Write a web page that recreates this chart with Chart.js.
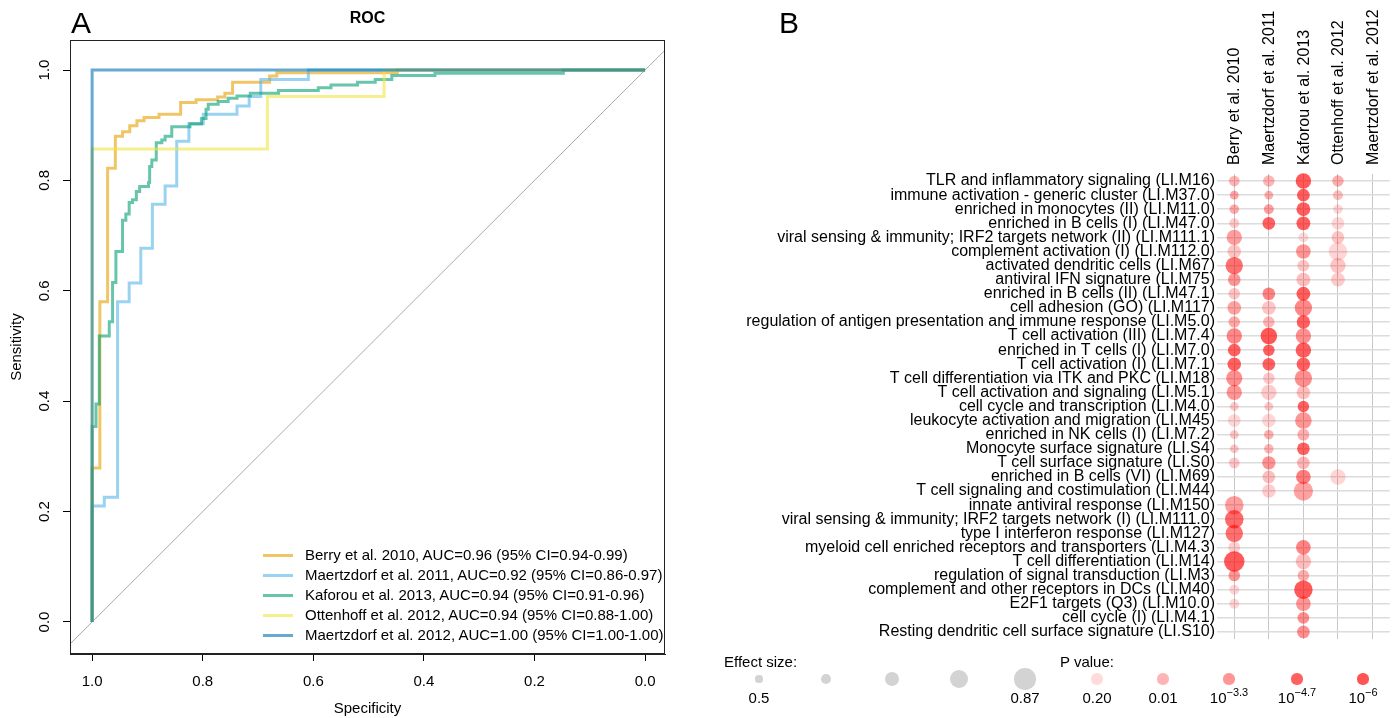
<!DOCTYPE html>
<html><head><meta charset="utf-8">
<script src="https://cdn.jsdelivr.net/npm/chart.js@4.4.1/dist/chart.umd.min.js"></script>
<style>
html,body{margin:0;padding:0;background:#fff;}
body{width:1400px;height:718px;position:relative;overflow:hidden;font-family:"Liberation Sans",Arial,Helvetica,sans-serif;color:#000;}
#ca{position:absolute;left:0;top:0;}
#cb{position:absolute;left:740px;top:0;}
.abs{position:absolute;white-space:nowrap;}
.letter{font-size:30px;line-height:30px;}
.t15{font-size:15px;line-height:18px;}
.dot{position:absolute;border-radius:50%;}
sup{font-size:11px;vertical-align:0;position:relative;top:-7px;}
</style></head>
<body>
<canvas id="ca" width="735" height="718"></canvas>
<canvas id="cb" width="660" height="718"></canvas>
<div id="overlay"></div>
<script>
// ---------------- Panel A: ROC data (specificity, sensitivity vertices) ----------------
const rocTicks = [0, 0.2, 0.4, 0.6, 0.8, 1.0];
const rocLegend = [
  'Berry et al. 2010, AUC=0.96 (95% CI=0.94-0.99)',
  'Maertzdorf et al. 2011, AUC=0.92 (95% CI=0.86-0.97)',
  'Kaforou et al. 2013, AUC=0.94 (95% CI=0.91-0.96)',
  'Ottenhoff et al. 2012, AUC=0.94 (95% CI=0.88-1.00)',
  'Maertzdorf et al. 2012, AUC=1.00 (95% CI=1.00-1.00)'
];
const berrySpec = [1,1,0.986,0.986,0.972,0.972,0.958,0.958,0.945,0.945,0.932,0.932,0.919,0.919,0.906,0.906,0.879,0.879,0.840,0.840,0.812,0.812,0.773,0.773,0.760,0.760,0.746,0.746,0.679,0.679,0.666,0.666,0.448,0.448,0];
const berrySens = [0,0.279,0.279,0.580,0.580,0.822,0.822,0.880,0.880,0.888,0.888,0.899,0.899,0.908,0.908,0.914,0.914,0.920,0.920,0.941,0.941,0.946,0.946,0.951,0.951,0.958,0.958,0.978,0.978,0.989,0.989,0.995,0.995,1,1];
const maert11Spec = [1,1,0.978,0.978,0.954,0.954,0.933,0.933,0.912,0.912,0.891,0.891,0.868,0.868,0.847,0.847,0.825,0.825,0.799,0.799,0.738,0.738,0.716,0.716,0.695,0.695,0.609,0.609,0];
const maert11Sens = [0,0.210,0.210,0.226,0.226,0.580,0.580,0.614,0.614,0.677,0.677,0.757,0.757,0.790,0.790,0.871,0.871,0.903,0.903,0.920,0.920,0.935,0.935,0.952,0.952,0.983,0.983,1,1];
const kaforouSpec = [1,1,0.993,0.993,0.987,0.987,0.969,0.969,0.963,0.963,0.957,0.957,0.945,0.945,0.939,0.939,0.933,0.933,0.927,0.927,0.920,0.920,0.914,0.914,0.898,0.898,0.896,0.896,0.892,0.892,0.884,0.884,0.874,0.874,0.868,0.868,0.856,0.856,0.823,0.823,0.802,0.802,0.794,0.794,0.790,0.790,0.772,0.772,0.754,0.754,0.738,0.738,0.714,0.714,0.663,0.663,0.591,0.591,0.568,0.568,0.520,0.520,0.488,0.488,0.458,0.458,0.380,0.380,0.148,0.148,0];
const kaforouSens = [0,0.354,0.354,0.395,0.395,0.518,0.518,0.544,0.544,0.615,0.615,0.671,0.671,0.728,0.728,0.739,0.739,0.760,0.760,0.765,0.765,0.780,0.780,0.789,0.789,0.796,0.796,0.825,0.825,0.837,0.837,0.868,0.868,0.873,0.873,0.880,0.880,0.897,0.897,0.902,0.902,0.912,0.912,0.929,0.929,0.938,0.938,0.943,0.943,0.949,0.949,0.953,0.953,0.958,0.958,0.963,0.963,0.968,0.968,0.973,0.973,0.978,0.978,0.983,0.983,0.990,0.990,0.994,0.994,1,1];
const ottenSpec = [1,1,0.683,0.683,0.472,0.472,0];
const ottenSens = [0,0.857,0.857,0.952,0.952,1,1];
const maert12Spec = [1,1,0];
const maert12Sens = [0,1,1];

// ---------------- Panel B: module enrichment data ----------------
const studies = ['Berry et al. 2010','Maertzdorf et al. 2011','Kaforou et al. 2013','Ottenhoff et al. 2012','Maertzdorf et al. 2012'];
const modules = [
  'TLR and inflammatory signaling (LI.M16)',
  'immune activation - generic cluster (LI.M37.0)',
  'enriched in monocytes (II) (LI.M11.0)',
  'enriched in B cells (I) (LI.M47.0)',
  'viral sensing & immunity; IRF2 targets network (II) (LI.M111.1)',
  'complement activation (I) (LI.M112.0)',
  'activated dendritic cells (LI.M67)',
  'antiviral IFN signature (LI.M75)',
  'enriched in B cells (II) (LI.M47.1)',
  'cell adhesion (GO) (LI.M117)',
  'regulation of antigen presentation and immune response (LI.M5.0)',
  'T cell activation (III) (LI.M7.4)',
  'enriched in T cells (I) (LI.M7.0)',
  'T cell activation (I) (LI.M7.1)',
  'T cell differentiation via ITK and PKC (LI.M18)',
  'T cell activation and signaling (LI.M5.1)',
  'cell cycle and transcription (LI.M4.0)',
  'leukocyte activation and migration (LI.M45)',
  'enriched in NK cells (I) (LI.M7.2)',
  'Monocyte surface signature (LI.S4)',
  'T cell surface signature (LI.S0)',
  'enriched in B cells (VI) (LI.M69)',
  'T cell signaling and costimulation (LI.M44)',
  'innate antiviral response (LI.M150)',
  'viral sensing & immunity; IRF2 targets network (I) (LI.M111.0)',
  'type I interferon response (LI.M127)',
  'myeloid cell enriched receptors and transporters (LI.M4.3)',
  'T cell differentiation (LI.M14)',
  'regulation of signal transduction (LI.M3)',
  'complement and other receptors in DCs (LI.M40)',
  'E2F1 targets (Q3) (LI.M10.0)',
  'cell cycle (I) (LI.M4.1)',
  'Resting dendritic cell surface signature (LI.S10)'
];
// effect sizes (null = not shown)
const berryES   = [0.59,0.54,0.56,0.57,0.71,0.66,0.76,0.64,0.61,0.67,0.61,0.71,0.64,0.66,0.73,0.71,0.54,0.64,0.54,0.54,0.59,null,null,0.79,0.79,0.76,0.62,0.84,0.61,0.57,0.57,null,null];
const maert11ES = [0.61,0.54,0.57,0.64,null,null,null,null,0.64,0.67,0.61,0.74,0.61,0.64,0.61,0.71,0.54,0.66,0.56,0.56,0.66,0.64,0.66,null,null,null,null,null,null,null,null,null,null];
const kaforouES = [0.71,0.64,0.67,0.67,0.57,0.69,0.62,0.67,0.67,0.76,0.66,0.71,0.71,0.66,0.76,0.66,0.61,0.74,0.62,0.64,0.64,0.69,0.81,null,null,null,0.69,0.71,0.61,0.79,0.69,0.62,0.64];
const ottenES   = [0.61,0.57,0.56,0.64,0.64,0.79,0.71,0.67,null,null,null,null,null,null,null,null,null,null,null,null,null,0.71,null,null,null,null,null,null,null,null,null,null,null];
const maert12ES = new Array(33).fill(null);
// -log10(P value)
const berryLogP   = [2.0,2.7,2.5,1.3,3.0,1.5,4.3,3.3,1.5,2.8,2.5,3.7,4.7,4.7,3.5,3.3,1.4,0.9,1.5,1.5,1.4,null,null,3.0,4.5,4.3,1.1,5.5,3.3,0.9,0.9,null,null];
const maert11LogP = [2.0,2.3,3.0,4.7,null,null,null,null,3.8,1.5,2.0,5.8,4.7,4.7,1.4,1.3,1.4,0.9,2.3,2.0,3.4,1.7,1.2,null,null,null,null,null,null,null,null,null,null];
const kaforouLogP = [5.5,5.0,5.0,5.0,0.8,3.3,1.5,1.7,5.0,3.7,4.8,3.5,5.0,4.8,3.5,1.7,4.8,3.3,2.3,4.8,2.0,4.0,2.8,null,null,null,3.8,1.7,2.3,5.5,3.3,3.5,3.5];
const ottenLogP   = [2.3,1.7,0.9,0.9,1.5,0.9,1.5,1.3,null,null,null,null,null,null,null,null,null,null,null,null,null,0.9,null,null,null,null,null,null,null,null,null,null,null];
const maert12LogP = new Array(33).fill(null);

// legend keys
const esLegendValues = [0.5, 0.5925, 0.685, 0.7775, 0.87];
const esLegendLabels = ['0.5', '', '', '', '0.87'];
const pLegendLogP = [0.7, 2, 3.3, 4.7, 6];
const pLegendLabels = ['0.20', '0.01', '10<sup>\u22123.3</sup>', '10<sup>\u22124.7</sup>', '10<sup>\u22126</sup>'];

// ---------------- style mappings ----------------
function radiusOf(es) { return 3.6 + (es - 0.5) * 19.5; }
const alphaKnots = [[0.7,0.14],[2,0.29],[3.3,0.41],[4.7,0.62],[6,0.67]];
function colorOf(lp) {
  let a;
  if (lp <= alphaKnots[0][0]) a = alphaKnots[0][1];
  else if (lp >= alphaKnots[4][0]) a = alphaKnots[4][1];
  else {
    for (let i = 0; i < 4; i++) {
      const [x0,y0] = alphaKnots[i], [x1,y1] = alphaKnots[i+1];
      if (lp >= x0 && lp <= x1) { a = y0 + (y1 - y0) * (lp - x0) / (x1 - x0); break; }
    }
  }
  return 'rgba(255,0,0,' + a.toFixed(3) + ')';
}

Chart.defaults.font.family = '"Liberation Sans", Arial, Helvetica, sans-serif';
Chart.defaults.color = '#000';

// ---------------- Panel A chart ----------------
const rocColors = ['rgba(230,159,0,0.6)','rgba(86,180,233,0.6)','rgba(0,158,115,0.6)','rgba(240,228,66,0.6)','rgba(0,114,178,0.6)'];
const rocSeries = [[berrySpec,berrySens],[maert11Spec,maert11Sens],[kaforouSpec,kaforouSens],[ottenSpec,ottenSens],[maert12Spec,maert12Sens]];
const X_MIN = -0.036, X_MAX = 1.04, Y_MIN = -0.058, Y_MAX = 1.054;
function pts(sx, sy) { return sx.map((v, i) => ({x: v, y: sy[i]})); }

const boxPlugin = {
  id: 'box',
  afterDraw(chart) {
    const a = chart.chartArea, c = chart.ctx;
    c.save(); c.strokeStyle = '#222'; c.lineWidth = 1;
    c.strokeRect(Math.round(a.left) + 0.5, Math.round(a.top) + 0.5, Math.round(a.right - a.left) - 1, Math.round(a.bottom - a.top) - 1);
    c.restore();
  }
};

new Chart(document.getElementById('ca'), {
  type: 'scatter',
  data: {
    datasets: rocSeries.map((s, i) => ({
      label: rocLegend[i], data: pts(s[0], s[1]), showLine: true, borderColor: rocColors[i],
      backgroundColor: rocColors[i], borderWidth: 3, pointRadius: 0, tension: 0, order: 5 - i
    })).concat([{
      label: 'diagonal', data: [{x: X_MAX, y: 1 - X_MAX}, {x: X_MIN, y: 1 - X_MIN}], showLine: true,
      borderColor: '#aaaaaa', borderWidth: 1, pointRadius: 0, order: 10
    }])
  },
  options: {
    responsive: false, animation: false, events: [],
    layout: {padding: {left: 0, right: 70, top: 0, bottom: 0}},
    plugins: {
      legend: {display: false}, tooltip: {enabled: false},
      title: {display: true, fullSize: false, text: 'ROC', color: '#000', font: {size: 16, weight: 'bold'}, padding: {top: 9, bottom: 12}}
    },
    scales: {
      x: {
        type: 'linear', min: X_MIN, max: X_MAX, reverse: true,
        afterBuildTicks: s => { s.ticks = rocTicks.map(v => ({value: v})); },
        ticks: {callback: v => Number(v).toFixed(1), font: {size: 15}, color: '#000', padding: 12, maxRotation: 0, autoSkip: false},
        grid: {display: true, drawOnChartArea: false, drawTicks: true, tickLength: 7, color: '#000'},
        border: {display: true, color: '#222'},
        title: {display: true, text: 'Specificity', color: '#000', font: {size: 15}, padding: 0},
        afterFit: s => { s.height = 64; }
      },
      y: {
        type: 'linear', min: Y_MIN, max: Y_MAX,
        afterBuildTicks: s => { s.ticks = rocTicks.map(v => ({value: v})); },
        ticks: {callback: v => Number(v).toFixed(1), font: {size: 15}, color: '#000', padding: 8, minRotation: 90, maxRotation: 90, crossAlign: 'center', autoSkip: false},
        grid: {display: true, drawOnChartArea: false, drawTicks: true, tickLength: 7, color: '#000'},
        border: {display: true, color: '#222'},
        title: {display: true, text: 'Sensitivity', color: '#000', font: {size: 15}, padding: {top: 8, bottom: 0}},
        afterFit: s => { s.width = 70; }
      }
    }
  },
  plugins: [boxPlugin]
});

// ---------------- Panel B chart ----------------
const esCols = [berryES, maert11ES, kaforouES, ottenES, maert12ES];
const lpCols = [berryLogP, maert11LogP, kaforouLogP, ottenLogP, maert12LogP];

new Chart(document.getElementById('cb'), {
  type: 'bubble',
  data: {
    datasets: studies.map((s, si) => {
      const data = [], colors = [];
      esCols[si].forEach((v, ri) => {
        if (v != null) { data.push({x: s, y: modules[ri], r: radiusOf(v)}); colors.push(colorOf(lpCols[si][ri])); }
      });
      return {label: s, data, backgroundColor: colors, borderWidth: 0, clip: false};
    })
  },
  options: {
    responsive: false, animation: false, events: [],
    layout: {padding: {left: 0, right: 5, top: 0, bottom: 79}},
    plugins: {legend: {display: false}, tooltip: {enabled: false}},
    scales: {
      x: {
        type: 'category', labels: studies, position: 'top', offset: true,
        grid: {offset: false, drawTicks: false, color: '#c8c8c8', lineWidth: 1},
        border: {display: false},
        ticks: {autoSkip: false, minRotation: 90, maxRotation: 90, font: {size: 16}, color: '#000', padding: 9, labelOffset: 20},
        afterFit: s => { s.height = 174; }
      },
      y: {
        type: 'category', labels: modules, offset: true,
        grid: {offset: false, drawTicks: false, color: '#dcdcdc', lineWidth: 1.5},
        border: {display: false},
        ticks: {autoSkip: false, font: {size: 16}, color: '#000', padding: 2},
        afterFit: s => { s.width = 477; }
      }
    }
  }
});

// ---------------- HTML overlays: panel letters and legends ----------------
const ov = document.getElementById('overlay');
function add(html, css, cls) {
  const d = document.createElement('div');
  d.className = 'abs ' + (cls || '');
  d.innerHTML = html;
  Object.assign(d.style, css);
  ov.appendChild(d);
  return d;
}
add('A', {left: '71px', top: '8px'}, 'letter');
add('B', {left: '779px', top: '8px'}, 'letter');

// ROC legend
rocLegend.forEach((t, i) => {
  const cy = 555 + i * 20;
  add('', {left: '263px', top: (cy - 1.5) + 'px', width: '30px', height: '3px', background: rocColors[i]});
  add(t, {left: '305px', top: (cy - 9) + 'px'}, 't15');
});

// Bubble legend
add('Effect size:', {left: '724px', top: '653px'}, 't15');
add('P value:', {left: '1060px', top: '653px'}, 't15');
const esX = [759, 826, 892, 959, 1025];
esLegendValues.forEach((v, i) => {
  const r = radiusOf(v);
  const d = document.createElement('div');
  d.className = 'dot';
  Object.assign(d.style, {left: (esX[i] - r) + 'px', top: (679 - r) + 'px', width: (2 * r) + 'px', height: (2 * r) + 'px', background: '#d3d3d3'});
  ov.appendChild(d);
  if (esLegendLabels[i]) {
    add(esLegendLabels[i], {left: esX[i] + 'px', top: '689px', transform: 'translateX(-50%)'}, 't15');
  }
});
const pX = [1097, 1163, 1229, 1297, 1363];
pLegendLogP.forEach((lp, i) => {
  const r = 5.6;
  const d = document.createElement('div');
  d.className = 'dot';
  Object.assign(d.style, {left: (pX[i] - r) + 'px', top: (679 - r) + 'px', width: (2 * r) + 'px', height: (2 * r) + 'px', background: colorOf(lp)});
  ov.appendChild(d);
  add(pLegendLabels[i], {left: pX[i] + 'px', top: '689px', transform: 'translateX(-50%)'}, 't15');
});
</script>
</body></html>
